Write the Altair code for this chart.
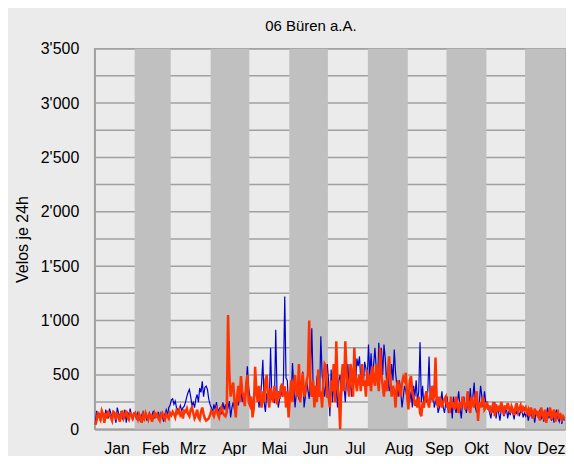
import altair as alt
import pandas as pd

month_names = ["Jan", "Feb", "Mrz", "Apr", "Mai", "Jun", "Jul", "Aug", "Sep", "Okt", "Nov", "Dez"]
month_starts = [0, 31, 59, 90, 120, 151, 181, 212, 243, 273, 304, 334, 365]
label_pos = [17, 47, 76, 108, 139, 171, 202, 236, 267, 296, 328, 354]
y_ticks = [0, 500, 1000, 1500, 2000, 2500, 3000, 3500]
grid_vals = [250, 500, 750, 1000, 1250, 1500, 1750, 2000, 2250, 2500, 2750, 3000, 3250, 3500]

blue_months = [
    [60,170,110,150,70,160,130,60,180,140,100,190,150,90,170,120,60,200,150,110,170,90,140,180,60,160,120,190,130,80,150],
    [140,90,150,120,70,130,160,100,140,80,120,150,90,130,170,100,140,110,160,90,150,120,70,140,180,130,200,220],
    [270,280,230,260,200,180,183,220,170,200,213,250,300,340,366,300,220,247,200,280,320,250,380,340,442,300,385,397,366,280,229],
    [200,150,230,180,250,160,183,200,140,247,180,230,150,200,260,110,200,250,180,213,280,220,300,366,250,330,280,400,580,380],
    [300,220,250,180,430,300,370,200,280,420,640,250,160,330,280,220,750,280,300,240,916,340,200,280,380,300,460,1220,470,450,200],
    [330,280,610,400,200,330,450,280,250,380,530,200,300,440,360,280,520,930,420,300,250,480,520,300,855,500,400,300,450,600],
    [450,120,550,250,400,600,350,200,450,500,300,550,400,250,480,600,350,420,300,500,550,400,650,580,670,450,500,400,620,560,450],
    [780,500,700,450,600,750,550,400,795,600,750,500,780,650,450,550,350,400,600,450,733,520,400,300,450,350,200,300,400,350,280],
    [300,250,350,200,400,300,450,250,350,800,250,400,200,300,250,350,670,250,300,400,200,250,300,150,200,250,350,200,150,250],
    [300,150,200,250,100,300,200,150,250,350,200,100,250,300,200,150,250,200,380,200,300,430,200,150,200,250,400,300,200,350,250],
    [250,200,150,100,200,150,250,100,200,150,80,180,220,120,150,200,100,170,130,200,150,90,180,140,200,120,160,190,110,150],
    [120,160,80,140,190,100,150,60,170,130,110,180,90,140,70,160,120,200,100,150,80,130,60,140,180,100,70,150,50,120,80],
]

red_months = [
    [40,80,160,120,90,170,140,60,150,100,170,130,110,80,160,150,90,140,120,70,150,160,100,130,170,110,90,150,140,100,130],
    [150,120,90,140,110,60,130,100,150,120,90,140,130,70,110,150,120,140,100,80,130,150,110,90,140,120,100,150],
    [130,160,140,110,170,150,180,130,150,100,170,160,190,140,120,180,200,150,100,130,180,110,90,160,200,140,100,80,90,100,130],
    [170,150,120,160,190,140,110,170,200,150,130,120,160,1050,520,300,380,430,250,110,300,400,250,490,350,300,213,400,500,250],
    [220,300,110,200,575,350,250,400,300,200,350,250,450,500,300,200,380,320,250,400,300,230,350,280,390,420,300,395,200,350,110],
    [300,450,250,400,500,350,300,600,250,400,520,300,350,450,500,1000,350,300,450,200,400,250,550,300,350,200,450,600,580,300],
    [300,200,450,350,600,250,810,400,300,0,450,600,350,810,500,400,300,600,520,300,750,450,350,458,500,350,600,400,450,300,550],
    [400,500,350,580,450,400,600,500,350,750,500,400,300,450,350,500,670,450,300,400,350,200,400,450,350,300,420,480,450,520,300],
    [183,450,490,350,300,215,250,200,300,150,120,250,200,300,350,250,200,300,400,280,300,660,250,200,300,250,200,250,280,300],
    [200,250,150,300,200,250,180,300,220,150,250,200,300,250,180,220,350,200,150,300,250,200,300,350,76,250,200,250,300,180,200],
    [250,180,220,150,200,250,120,230,180,200,160,250,200,130,220,180,240,200,150,210,180,130,200,240,160,190,220,150,200,180],
    [200,150,180,120,200,160,100,190,150,130,170,80,200,140,110,180,60,160,120,200,90,150,180,70,140,160,110,130,90,120,100],
]

blue = [v for m in blue_months for v in m]
red = [v for m in red_months for v in m]
n = min(len(blue), len(red))
days = [i + 0.5 for i in range(n)]

df_blue = pd.DataFrame({"day": days, "v": blue[:n]})
df_red = pd.DataFrame({"day": days, "v": red[:n]})
df_grid = pd.DataFrame({"g": grid_vals})
df_bands = pd.DataFrame({
    "start": [month_starts[i] for i in range(1, 12, 2)],
    "end": [month_starts[i + 1] for i in range(1, 12, 2)],
})

names_js = "[" + ",".join("'" + m + "'" for m in month_names) + "]"
pos_js = "[" + ",".join(str(p) for p in label_pos) + "]"

xscale = alt.Scale(domain=[0, 365], nice=False, zero=False)
yscale = alt.Scale(domain=[0, 3500], nice=False)

x_axis = alt.Axis(
    values=label_pos,
    labelExpr=names_js + "[indexof(" + pos_js + ", datum.value)]",
    title=None, grid=False, ticks=False, domain=True,
    domainColor="#A0A0A0", domainWidth=2,
    labelFont="Liberation Sans", labelFontSize=16, labelColor="#000000",
    labelPadding=11, labelFlush=False, labelOverlap=False,
)
y_axis = alt.Axis(
    values=y_ticks,
    labelExpr="replace(format(datum.value, ','), ',', \"'\")",
    title="Velos je 24h", grid=False, ticks=False, domain=True,
    domainColor="#A0A0A0", domainWidth=1.5,
    labelFont="Liberation Sans", labelFontSize=16, labelColor="#000000",
    labelPadding=16, titleFont="Liberation Sans", titleFontSize=16,
    titleFontWeight="normal", titleColor="#000000", titlePadding=10,
)

grid = alt.Chart(df_grid).mark_rule(color="#A0A0A0", strokeWidth=1.5).encode(
    y=alt.Y("g:Q", scale=yscale, axis=y_axis)
)
bands = alt.Chart(df_bands).mark_rect(color="#C0C0C0").encode(
    x=alt.X("start:Q", scale=xscale, axis=x_axis),
    x2="end:Q",
    y=alt.value(0),
    y2=alt.value(382),
)
line_blue = alt.Chart(df_blue).mark_line(color="#0000CC", strokeWidth=1.2).encode(
    x=alt.X("day:Q", scale=xscale),
    y=alt.Y("v:Q", scale=yscale),
)
line_red = alt.Chart(df_red).mark_line(color="#FF3300", strokeWidth=2.5).encode(
    x=alt.X("day:Q", scale=xscale),
    y=alt.Y("v:Q", scale=yscale),
)

chart = alt.layer(grid, bands, line_blue, line_red).properties(
    width=472,
    height=382,
    title=alt.TitleParams(
        text="06 Büren a.A.", font="Liberation Sans", fontSize=15,
        fontWeight="normal", color="#000000", anchor="middle",
        frame="group", dx=-19, offset=7,
    ),
    autosize=alt.AutoSizeParams(type="none"),
    padding={"left": 87, "top": 40, "right": 1, "bottom": 26},
    background="#EBEBEB",
).configure_view(
    fill="#EBEBEB", stroke="#A0A0A0", strokeWidth=1.5
)

chart.save("out.html", embed_options={"renderer": "svg", "actions": False})
